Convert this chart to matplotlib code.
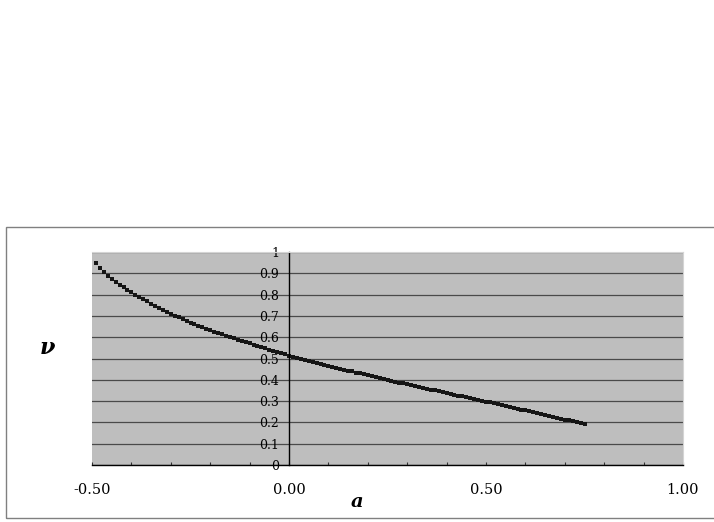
import matplotlib
matplotlib.use("Agg")
import matplotlib.pyplot as plt
from matplotlib.patches import Rectangle
from matplotlib.ticker import MultipleLocator, FormatStrFormatter

# values
a_vals = [
    -0.49, -0.48, -0.47, -0.46, -0.45, -0.44, -0.43, -0.42, -0.41, -0.40,
    -0.39, -0.38, -0.37, -0.36, -0.35, -0.34, -0.33, -0.32, -0.31, -0.30,
    -0.29, -0.28, -0.27, -0.26, -0.25, -0.24, -0.23, -0.22, -0.21, -0.20,
    -0.19, -0.18, -0.17, -0.16, -0.15, -0.14, -0.13, -0.12, -0.11, -0.10,
    -0.09, -0.08, -0.07, -0.06, -0.05, -0.04, -0.03, -0.02, -0.01, 0.00,
    0.01, 0.02, 0.03, 0.04, 0.05, 0.06, 0.07, 0.08, 0.09, 0.10,
    0.11, 0.12, 0.13, 0.14, 0.15, 0.16, 0.17, 0.18, 0.19, 0.20,
    0.21, 0.22, 0.23, 0.24, 0.25, 0.26, 0.27, 0.28, 0.29, 0.30,
    0.31, 0.32, 0.33, 0.34, 0.35, 0.36, 0.37, 0.38, 0.39, 0.40,
    0.41, 0.42, 0.43, 0.44, 0.45, 0.46, 0.47, 0.48, 0.49, 0.50,
    0.51, 0.52, 0.53, 0.54, 0.55, 0.56, 0.57, 0.58, 0.59, 0.60,
    0.61, 0.62, 0.63, 0.64, 0.65, 0.66, 0.67, 0.68, 0.69, 0.70,
    0.71, 0.72, 0.73, 0.74, 0.75,
]
nu_vals = [
    0.948, 0.925, 0.906, 0.887, 0.872, 0.859, 0.847, 0.835, 0.822, 0.811,
    0.800, 0.789, 0.779, 0.768, 0.758, 0.748, 0.738, 0.729, 0.719, 0.710,
    0.701, 0.693, 0.685, 0.677, 0.669, 0.662, 0.654, 0.647, 0.640, 0.633,
    0.626, 0.620, 0.613, 0.607, 0.600, 0.594, 0.588, 0.582, 0.577, 0.571,
    0.565, 0.559, 0.554, 0.548, 0.542, 0.536, 0.531, 0.525, 0.520, 0.514,
    0.509, 0.504, 0.498, 0.493, 0.488, 0.483, 0.479, 0.474, 0.470, 0.465,
    0.461, 0.456, 0.452, 0.447, 0.443, 0.439, 0.434, 0.430, 0.425, 0.421,
    0.417, 0.413, 0.408, 0.404, 0.400, 0.396, 0.392, 0.387, 0.383, 0.379,
    0.375, 0.371, 0.366, 0.362, 0.358, 0.354, 0.350, 0.346, 0.342, 0.338,
    0.334, 0.330, 0.326, 0.322, 0.318, 0.314, 0.310, 0.306, 0.302, 0.298,
    0.294, 0.290, 0.285, 0.281, 0.277, 0.273, 0.269, 0.264, 0.260, 0.256,
    0.252, 0.248, 0.243, 0.239, 0.235, 0.230, 0.226, 0.222, 0.217, 0.213,
    0.209, 0.205, 0.200, 0.196, 0.192,
]

fig = plt.figure(figsize=(7.14, 5.22), dpi=100)
fig.patch.set_facecolor("white")

# chart frame (open on the right, like the cropped original)
fig.patches.append(Rectangle((6 / 714, 4 / 522), 1.2, 291 / 522,
                             transform=fig.transFigure, fill=False,
                             edgecolor="#808080", lw=1.0))

ax = fig.add_axes([92 / 714, 57 / 522, 591 / 714, 213 / 522])
ax.set_facecolor("#bebebe")
ax.set_xlim(-0.5, 1.0)
ax.set_ylim(0, 1)

ax.plot(a_vals, nu_vals, linestyle="none", marker="s", markersize=2.3,
        color="#151515", markeredgewidth=0)

# y axis sits at a = 0
ax.spines["left"].set_position(("data", 0))
ax.spines["left"].set_color("black")
ax.spines["left"].set_linewidth(1.0)
ax.spines["bottom"].set_color("black")
ax.spines["bottom"].set_linewidth(1.0)
for s in ["top", "right"]:
    ax.spines[s].set_color("#d4d4d4")
    ax.spines[s].set_linewidth(0.8)

ax.yaxis.set_major_locator(MultipleLocator(0.1))
ax.yaxis.set_major_formatter(FormatStrFormatter("%g"))
ax.xaxis.set_major_locator(MultipleLocator(0.5))
ax.xaxis.set_minor_locator(MultipleLocator(0.1))
ax.xaxis.set_major_formatter(FormatStrFormatter("%.2f"))

ax.grid(axis="y", color="#4a4a4a", linewidth=0.9)
ax.set_axisbelow(True)

ax.tick_params(axis="y", length=0, pad=7, labelsize=9)
ax.tick_params(axis="x", which="both", direction="in", length=2.5,
               color="#333333", width=0.8)
ax.tick_params(axis="x", which="major", pad=13, labelsize=10.5)

for lbl in ax.get_xticklabels() + ax.get_yticklabels():
    lbl.set_family("DejaVu Serif")

fig.text(357 / 714, 20 / 522, "a", family="DejaVu Serif", style="italic",
         weight="bold", fontsize=14, ha="center", va="center")
fig.text(47 / 714, 174 / 522, "ν", family="DejaVu Serif", style="italic",
         weight="bold", fontsize=16, ha="center", va="center")

fig.savefig("out.png", dpi=100)
